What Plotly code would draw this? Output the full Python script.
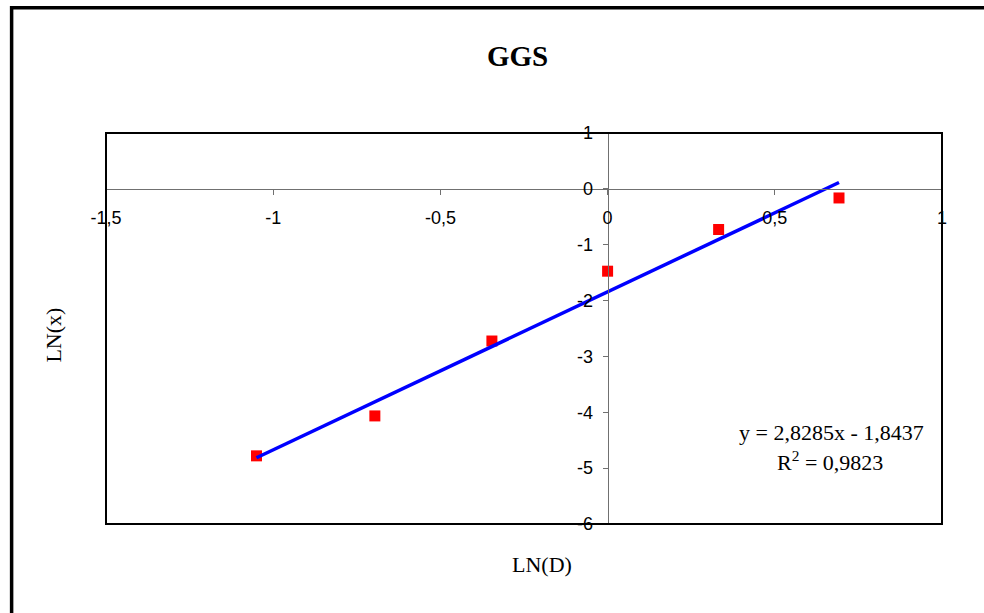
import plotly.graph_objects as go

# Data
ln_d = [-1.050, -0.696, -0.346, 0.000, 0.332, 0.692]
ln_x = [-4.78, -4.065, -2.724, -1.474, -0.728, -0.163]

# Excel linear trendline coefficients (as printed on the chart)
slope = 2.8285
intercept = -1.8437
r_squared = "0,9823"

x_tickvals = [-1.5, -1, -0.5, 0, 0.5, 1]
x_ticktext = ["-1,5", "-1", "-0,5", "0", "0,5", "1"]
y_tickvals = [-6, -5, -4, -3, -2, -1, 0, 1]
y_ticktext = ["-6", "-5", "-4", "-3", "-2", "-1", "0", "1"]

trend_x = [min(ln_d), max(ln_d)]
trend_y = [slope * v + intercept for v in trend_x]

fig = go.Figure()
fig.add_trace(go.Scatter(
    x=ln_d, y=ln_x, mode="markers",
    marker=dict(symbol="square", size=11, color="#FF0000", line=dict(width=0)),
    showlegend=False,
))
fig.add_trace(go.Scatter(
    x=trend_x, y=trend_y, mode="lines",
    line=dict(color="#0000FF", width=3.5),
    showlegend=False,
))

tickfont = dict(family="Liberation Sans, Arial, sans-serif", size=18, color="black")
serif = "Liberation Serif"

fig.update_layout(
    width=984, height=613,
    margin=dict(l=105.5, r=41.5, t=132.7, b=88.7),
    paper_bgcolor="white", plot_bgcolor="white",
    xaxis=dict(
        range=[-1.5, 1], tickvals=x_tickvals, ticktext=x_ticktext,
        showgrid=False, zeroline=False, showline=True,
        linecolor="#707070", linewidth=1,
        ticks="outside", ticklen=5, tickcolor="#707070",
        anchor="free", position=6 / 7, side="bottom",
        tickfont=tickfont, ticklabelstandoff=8,
    ),
    yaxis=dict(
        range=[-6, 1], tickvals=y_tickvals, ticktext=y_ticktext,
        showgrid=False, zeroline=False, showline=True,
        linecolor="#707070", linewidth=1,
        ticks="outside", ticklen=5, tickcolor="#707070",
        anchor="free", position=0.6, side="left",
        tickfont=tickfont, ticklabelstandoff=6,
    ),
    shapes=[
        dict(type="rect", xref="paper", yref="paper", x0=0, y0=0, x1=1, y1=1,
             line=dict(color="black", width=2), fillcolor="rgba(0,0,0,0)", layer="above"),
        dict(type="rect", xref="paper", yref="paper", x0=-0.1129, y0=-0.244, x1=1.0567, y1=1.3206,
             line=dict(color="black", width=3.5), fillcolor="rgba(0,0,0,0)"),
    ],
    annotations=[
        dict(text="<b>GGS</b>", xref="paper", yref="paper", x=0.4928, y=1.196,
             xanchor="center", yanchor="middle", showarrow=False,
             font=dict(family=serif, size=29, color="black")),
        dict(text="LN(D)", xref="paper", yref="paper", x=0.5215, y=-0.104,
             xanchor="center", yanchor="middle", showarrow=False,
             font=dict(family=serif, size=22, color="black")),
        dict(text="LN(x)", xref="paper", yref="paper", x=-0.0627, y=0.4834,
             xanchor="center", yanchor="middle", showarrow=False, textangle=-90,
             font=dict(family=serif, size=22, color="black")),
        dict(text=f"y = {str(slope).replace('.', ',')}x - {str(abs(intercept)).replace('.', ',')}",
             xref="paper", yref="paper", x=0.8674, y=0.2339,
             xanchor="center", yanchor="middle", showarrow=False,
             font=dict(family=serif, size=22, color="black")),
        dict(text=f"R<sup>2</sup> = {r_squared}",
             xref="paper", yref="paper", x=0.8664, y=0.1624,
             xanchor="center", yanchor="middle", showarrow=False,
             font=dict(family=serif, size=22, color="black")),
    ],
)

fig.write_html(
    "out.html",
    config={"displayModeBar": False},
    post_script="document.documentElement.style.margin='0';"
                "document.body.style.margin='0';"
                "document.body.style.overflow='hidden';",
)
